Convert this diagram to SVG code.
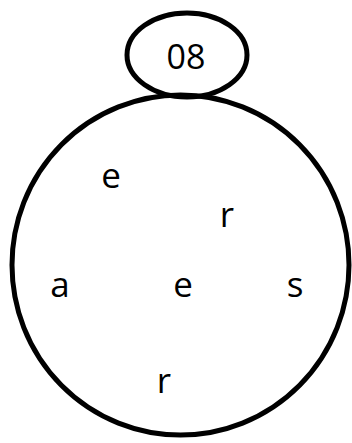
<svg xmlns="http://www.w3.org/2000/svg" width="352" height="443" viewBox="0 0 352 443">
<style>
.shape{fill:none;stroke:#000;stroke-width:5}
.t{font-family:"Open Sans","Noto Sans","DejaVu Sans",sans-serif;font-size:35px;fill:#000;text-anchor:middle}
.n{font-size:34px}
</style>
<rect width="352" height="443" fill="#fff"/>
<g id="connectors"></g>
<g id="node-top">
<ellipse class="shape" cx="187" cy="55" rx="60" ry="42"/>
<text class="t n" x="186" y="69">08</text>
</g>
<g id="node-main">
<ellipse class="shape" cx="180.5" cy="265" rx="168.5" ry="170"/>
<text class="t" x="111" y="188">e</text>
<text class="t" x="227" y="227">r</text>
<text class="t" x="60" y="297">a</text>
<text class="t" x="183" y="297">e</text>
<text class="t" x="295" y="297">s</text>
<text class="t" x="164" y="393">r</text>
</g>
</svg>
